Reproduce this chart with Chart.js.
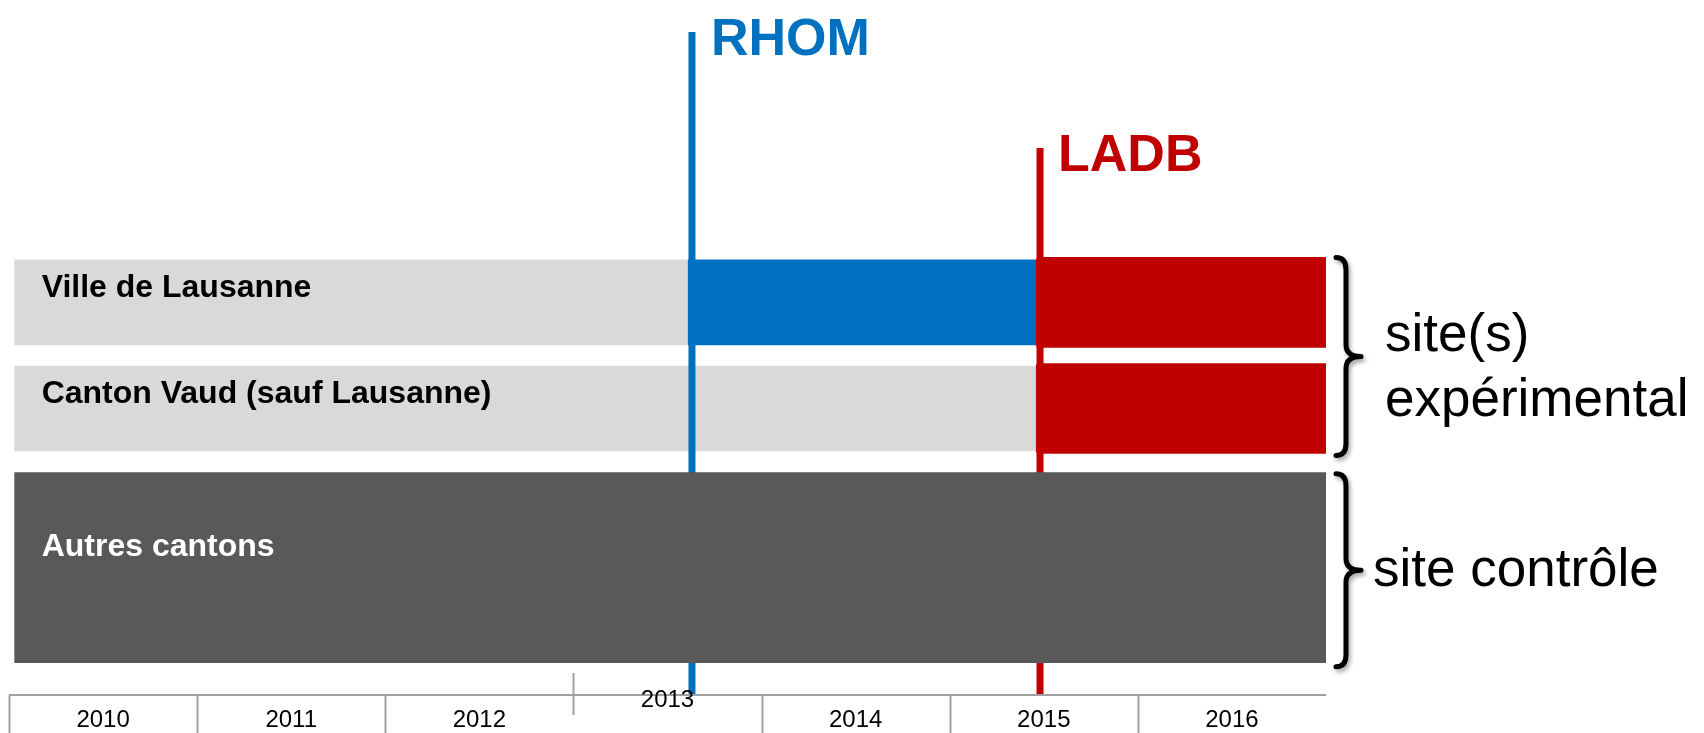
<!DOCTYPE html>
<html>
<head>
<meta charset="utf-8">
<script src="https://cdn.jsdelivr.net/npm/chart.js@4/dist/chart.umd.min.js"></script>
<style>
  html, body { margin: 0; padding: 0; background: #ffffff; }
  #wrap { width: 1704px; height: 733px; }
</style>
</head>
<body>
<div id="wrap"><canvas id="timeline" width="1704" height="733"></canvas></div>
<script>
// Rows and their lanes on the y scale
const rowLabels = ['Ville de Lausanne', 'Canton Vaud (sauf Lausanne)', 'Autres cantons'];
const rowLanes = [1, 2, 3.5];

// Time axis
const yearLabels = ['2010', '2011', '2012', '2013', '2014', '2015', '2016'];
const axisStart = 2010;
const axisEnd = 2017;

// Periods as [start, end] in fractional years
const baselinePeriods = [[2010.03, 2013.61], [2010.03, 2015.46]]; // rows 1-2, before
const rhomPeriods = [[2013.61, 2015.46]];                           // row 1
const ladbPeriods = [[2015.46, 2017.01], [2015.46, 2017.01]];       // rows 1-2
const controlPeriods = [[2010.03, 2017]];                           // row 3

// Interventions
const eventLabels = ['RHOM', 'LADB'];
const eventYears = [2013.63, 2015.48];

// Groups marked with braces on the right
const groupLabels = [['site(s)', 'expérimental'], ['site contrôle']];

const colors = {
  base: '#D9D9D9',
  rhom: '#0070C0',
  ladb: '#C00000',
  control: '#595959',
  axis: '#A0A0A0'
};
const fontFamily = "'Liberation Sans', Arial, Helvetica, sans-serif";

// Layout tweaks (pixels)
const style = {
  markerTops: [32, 148],
  markerWidth: 7,
  markerTextDx: [19, 18],
  rowLabelDy: [37, 37, 83],
  raisedYear: '2013',
  groupTextDx: [59, 47],
  groupTextDy: [-5, 16],
  groupLineHeight: 65
};

// Bar element for a row's label (grey bars for rows 1-2, dark bar for row 3)
function rowBar(chart, i) {
  return i < 2 ? chart.getDatasetMeta(3).data[i] : chart.getDatasetMeta(0).data[0];
}

function drawBrace(ctx, left, top, bottom) {
  const mid = (top + bottom) / 2;
  const m = left + 10;
  const tip = left + 25;
  const r = 12;
  ctx.beginPath();
  ctx.moveTo(left, top);
  ctx.quadraticCurveTo(m, top, m, top + r);
  ctx.lineTo(m, mid - r);
  ctx.quadraticCurveTo(m, mid, tip, mid);
  ctx.quadraticCurveTo(m, mid, m, mid + r);
  ctx.lineTo(m, bottom - r);
  ctx.quadraticCurveTo(m, bottom, left, bottom);
  ctx.stroke();
}

const timelinePlugin = {
  id: 'timeline',
  // event lines go over the light rows but under the control row
  afterDatasetDraw(chart, args) {
    if (args.index !== 1) return;
    const { ctx, chartArea, scales: { x } } = chart;
    const eventColors = [colors.rhom, colors.ladb];
    ctx.save();
    eventYears.forEach((year, i) => {
      const px = x.getPixelForValue(year);
      const top = style.markerTops[i];
      ctx.strokeStyle = eventColors[i];
      ctx.lineWidth = style.markerWidth;
      ctx.beginPath();
      ctx.moveTo(px, top);
      ctx.lineTo(px, chartArea.bottom - 1);
      ctx.stroke();
      ctx.fillStyle = eventColors[i];
      ctx.font = `bold 52px ${fontFamily}`;
      ctx.textAlign = 'left';
      ctx.textBaseline = 'alphabetic';
      ctx.fillText(eventLabels[i], px + style.markerTextDx[i], top + 23);
    });
    ctx.restore();
  },
  afterDraw(chart) {
    const { ctx, chartArea, scales: { x } } = chart;
    ctx.save();

    // row labels inside the bars
    ctx.font = `bold 32px ${fontFamily}`;
    ctx.textAlign = 'left';
    ctx.textBaseline = 'alphabetic';
    rowLabels.forEach((label, i) => {
      const bar = rowBar(chart, i);
      const top = bar.y - bar.height / 2;
      ctx.fillStyle = i === 2 ? '#ffffff' : '#000000';
      ctx.fillText(label, Math.min(bar.x, bar.base) + 27, top + style.rowLabelDy[i]);
    });

    // time axis
    const axisY = chartArea.bottom;
    ctx.strokeStyle = colors.axis;
    ctx.lineWidth = 2;
    ctx.beginPath();
    ctx.moveTo(x.getPixelForValue(axisStart), axisY);
    ctx.lineTo(x.getPixelForValue(axisEnd), axisY);
    ctx.stroke();
    ctx.font = `24px ${fontFamily}`;
    ctx.textAlign = 'center';
    ctx.fillStyle = '#000000';
    yearLabels.forEach((label, i) => {
      const year = axisStart + i;
      const raised = label === style.raisedYear;
      const bx = Math.round(x.getPixelForValue(year)) + 0.5;
      ctx.beginPath();
      ctx.moveTo(bx, raised ? axisY - 22 : axisY);
      ctx.lineTo(bx, raised ? axisY + 20 : axisY + 38);
      ctx.stroke();
      ctx.fillText(label, x.getPixelForValue(year + 0.5), raised ? axisY + 12 : axisY + 32);
    });

    // braces and group labels
    const red = chart.getDatasetMeta(1).data;
    const ctrl = chart.getDatasetMeta(0).data[0];
    const spans = [
      [red[0].y - red[0].height / 2, red[1].y + red[1].height / 2 + 2],
      [ctrl.y - ctrl.height / 2 + 1, ctrl.y + ctrl.height / 2 + 4]
    ];
    const braceLeft = chartArea.right + 10;
    ctx.strokeStyle = '#000000';
    ctx.lineWidth = 5;
    ctx.lineCap = 'round';
    ctx.lineJoin = 'round';
    ctx.shadowColor = 'rgba(0,0,0,0.35)';
    ctx.shadowBlur = 4;
    ctx.shadowOffsetX = 2;
    ctx.shadowOffsetY = 3;
    spans.forEach(([top, bottom]) => drawBrace(ctx, braceLeft, top, bottom));
    ctx.shadowColor = 'transparent';

    ctx.font = `53px ${fontFamily}`;
    ctx.textAlign = 'left';
    ctx.fillStyle = '#000000';
    groupLabels.forEach((lines, g) => {
      const mid = (spans[g][0] + spans[g][1]) / 2;
      lines.forEach((line, k) => {
        ctx.fillText(line, chartArea.right + style.groupTextDx[g],
          mid + style.groupTextDy[g] + k * style.groupLineHeight);
      });
    });

    ctx.restore();
  }
};

const toRows = (periods, lanes) => periods.map((p, i) => ({ x: p, y: lanes[i] }));

new Chart(document.getElementById('timeline'), {
  type: 'bar',
  data: {
    datasets: [
      {
        label: 'site contrôle',
        data: toRows(controlPeriods, [rowLanes[2]]),
        backgroundColor: colors.control,
        barThickness: 190
      },
      {
        label: 'LADB',
        data: toRows(ladbPeriods, rowLanes),
        backgroundColor: colors.ladb,
        barThickness: 90,
        borderRadius: 3,
        borderSkipped: false
      },
      {
        label: 'RHOM',
        data: toRows(rhomPeriods, rowLanes),
        backgroundColor: colors.rhom,
        barThickness: 85
      },
      {
        label: 'avant',
        data: toRows(baselinePeriods, rowLanes),
        backgroundColor: colors.base,
        barThickness: 85
      }
    ]
  },
  options: {
    indexAxis: 'y',
    responsive: false,
    devicePixelRatio: 1,
    animation: false,
    datasets: { bar: { grouped: false, borderWidth: 0 } },
    layout: { padding: { left: 9, right: 378, top: 0, bottom: 38 } },
    scales: {
      x: { type: 'linear', min: axisStart, max: axisEnd, display: false, offset: false },
      y: { type: 'linear', reverse: true, min: -1.85, max: 4.7, display: false, offset: false }
    },
    plugins: {
      legend: { display: false },
      tooltip: { enabled: false }
    }
  },
  plugins: [timelinePlugin]
});
</script>
</body>
</html>
